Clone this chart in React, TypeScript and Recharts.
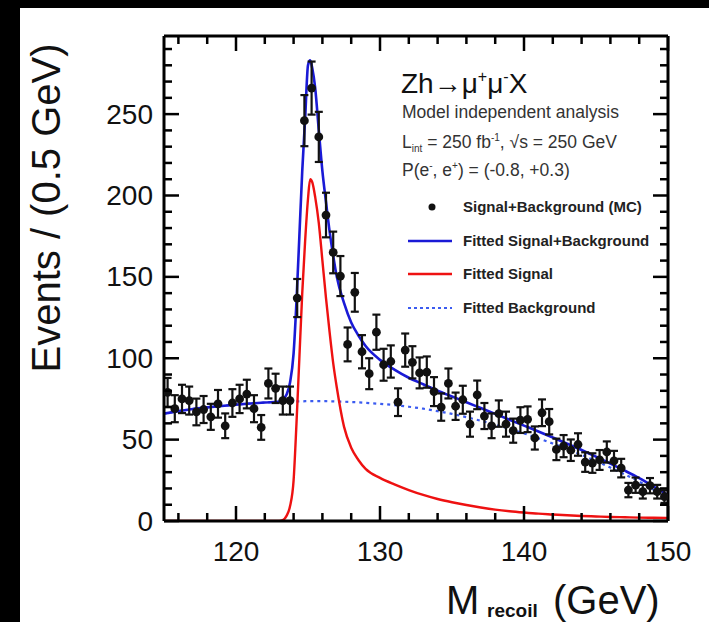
import React from "react";
import { ComposedChart, Line, Scatter, ErrorBar, XAxis, YAxis } from "recharts";

const FONT = "'Liberation Sans', Arial, Helvetica, sans-serif";

// Bin centres (GeV), 0.5 GeV bins
const binX = [
  115.25, 115.75, 116.25, 116.75, 117.25, 117.75, 118.25, 118.75, 119.25, 119.75,
  120.25, 120.75, 121.25, 121.75, 122.25, 122.75, 123.25, 123.75, 124.25, 124.75,
  125.25, 125.75, 126.25, 126.75, 127.25, 127.75, 128.25, 128.75, 129.25, 129.75,
  130.25, 130.75, 131.25, 131.75, 132.25, 132.75, 133.25, 133.75, 134.25, 134.75,
  135.25, 135.75, 136.25, 136.75, 137.25, 137.75, 138.25, 138.75, 139.25, 139.75,
  140.25, 140.75, 141.25, 141.75, 142.25, 142.75, 143.25, 143.75, 144.25, 144.75,
  145.25, 145.75, 146.25, 146.75, 147.25, 147.75, 148.25, 148.75, 149.25, 149.75,
];

// Signal+Background (MC) counts per bin
const counts = [
  79, 69, 75, 74, 67, 68.5, 64, 72, 58.5, 72.5,
  75, 78, 69, 57.5, 84.5, 81.5, 74, 74, 137, 246,
  266, 236, 188, 165, 150.5, 108.5, 140.5, 104, 90.5, 116,
  96, 98, 73, 105, 97.5, 91, 91.5, 79.5, 70, 84.5,
  70.5, 74.5, 59.5, 77.5, 64.5, 58.5, 66, 59.5, 55.5, 62,
  62.5, 51, 66.5, 61, 44, 46, 43.5, 47, 36.2, 35.6,
  37.5, 42.4, 37, 32.5, 19, 22, 18, 21.7, 18, 15,
];

// Error bar half-lengths
const errs = [
  8.9, 8.3, 8.7, 8.6, 8.2, 8.3, 8, 8.5, 7.6, 8.5,
  8.7, 8.8, 8.3, 7.6, 9.2, 9, 8.6, 8.6, 11.7, 15.7,
  16.3, 15.4, 13.7, 12.8, 12.3, 10.4, 11.9, 10.2, 9.5, 10.8,
  9.8, 9.9, 8.5, 10.2, 9.9, 9.5, 9.6, 8.9, 8.4, 9.2,
  8.4, 8.6, 7.7, 8.8, 8, 7.6, 8.1, 7.7, 7.4, 7.9,
  7.9, 7.1, 8.2, 7.8, 6.6, 6.8, 6.6, 6.9, 6, 6,
  6.1, 6.5, 6.1, 5.7, 4.4, 4.7, 4.2, 4.7, 4.2, 3.9,
];

// Sample positions of the fitted curves
const curveX = [
  115, 116, 117, 118, 119, 120, 121, 122, 123, 123.25,
  123.5, 123.75, 124, 124.2, 124.4, 124.6, 124.8, 125, 125.15, 125.3,
  125.5, 125.75, 126, 126.25, 126.5, 126.75, 127, 127.5, 128, 128.5,
  129, 130, 131, 132, 133, 134, 135, 136, 137, 138,
  139, 140, 141, 142, 143, 144, 145, 146, 147, 148,
  149, 150,
];

const fitTotal = [
  66, 67.5, 68.8, 69.8, 70.7, 71.5, 72.2, 72.8, 73.3, 74.5,
  77.5, 85, 103, 135, 175, 215, 247, 280, 283, 278,
  266, 240, 215, 196, 178, 163, 150, 134, 122, 114,
  107.5, 99, 93, 88, 84, 80, 76.5, 73, 69.4, 65.8,
  62.2, 58.6, 55, 51.3, 47.5, 43.6, 39.5, 35.3, 30.9, 26.3,
  21.2, 15.9,
];

const fitSignal = [
  0, 0, 0, 0, 0, 0, 0, 0, 0, 0.5,
  3, 9, 25, 60, 100, 140, 172, 198, 210, 208,
  199, 183, 160, 137, 116, 97, 82, 58, 45, 37.5,
  32, 26.5, 22.5, 19, 16, 13.5, 11.5, 9.8, 8.3, 7,
  6, 5.2, 4.5, 4, 3.5, 3.1, 2.8, 2.5, 2.3, 2.1,
  2, 1.9,
];

const fitBackground = [
  66, 67.5, 68.8, 69.8, 70.7, 71.5, 72.2, 72.8, 73.2, 73.3,
  73.4, 73.4, 73.5, 73.5, 73.5, 73.5, 73.6, 73.6, 73.6, 73.6,
  73.6, 73.6, 73.6, 73.6, 73.5, 73.5, 73.4, 73.3, 73.1, 72.9,
  72.6, 72, 71.2, 70.2, 69, 67.5, 65.8, 63.8, 61.6, 59.2,
  56.6, 53.8, 50.8, 47.6, 44.2, 40.6, 36.8, 32.8, 28.6, 24.2,
  19.2, 14,
];

const yTicks = [0, 10, 20, 30, 40, 50, 60, 70, 80, 90, 100, 110, 120, 130, 140, 150, 160, 170, 180, 190, 200, 210, 220, 230, 240, 250, 260, 270, 280, 290];
const yMajor = [0, 50, 100, 150, 200, 250];
const xTicks = [116, 118, 120, 122, 124, 126, 128, 130, 132, 134, 136, 138, 140, 142, 144, 146, 148, 150];
const xMajor = [120, 130, 140, 150];

const points = binX.map((x, i) => ({ x, y: counts[i], err: errs[i] }));
const totalData = curveX.map((x, i) => ({ x, y: fitTotal[i] }));
const signalData = curveX.map((x, i) => ({ x, y: fitSignal[i] }));
const bgData = curveX.map((x, i) => ({ x, y: fitBackground[i] }));

const MAJ = 15;
const MIN = 8;
const TW = 2.5;

const LeftTick = (p: any) => {
  const major = yMajor.includes(p.payload.value);
  return (
    <g>
      <line x1={p.x} y1={p.y} x2={p.x + (major ? MAJ : MIN)} y2={p.y} stroke="#000" strokeWidth={TW} />
      {major && (
        <text x={p.x - 11} y={p.y} textAnchor="end" dominantBaseline="central" fontSize={28} fontFamily={FONT} fill="#111">
          {p.payload.value}
        </text>
      )}
    </g>
  );
};
const RightTick = (p: any) => {
  const major = yMajor.includes(p.payload.value);
  return <line x1={p.x} y1={p.y} x2={p.x - (major ? MAJ : MIN)} y2={p.y} stroke="#000" strokeWidth={TW} />;
};
const BottomTick = (p: any) => {
  const major = xMajor.includes(p.payload.value);
  return (
    <g>
      <line x1={p.x} y1={p.y} x2={p.x} y2={p.y - (major ? MAJ : MIN)} stroke="#000" strokeWidth={TW} />
      {major && (
        <text x={p.x} y={p.y + 40} textAnchor="middle" fontSize={28} fontFamily={FONT} fill="#111">
          {p.payload.value}
        </text>
      )}
    </g>
  );
};
const TopTick = (p: any) => {
  const major = xMajor.includes(p.payload.value);
  return <line x1={p.x} y1={p.y} x2={p.x} y2={p.y + (major ? MAJ : MIN)} stroke="#000" strokeWidth={TW} />;
};

const Dot = (p: any) => <circle cx={p.cx} cy={p.cy} r={4.4} fill="#111" />;

const axisLineStyle = { stroke: "#000", strokeWidth: 3 };

export default function App() {
  return (
    <div style={{ position: "absolute", left: 0, top: 0, width: 709, height: 622, background: "#fff", overflow: "hidden" }}>
      <div style={{ position: "absolute", left: 0, top: 0, width: 709, height: 8, background: "#000" }} />
      <div style={{ position: "absolute", left: 0, top: 0, width: 20, height: 622, background: "#000" }} />
      <div style={{ position: "absolute", left: 0, top: 0 }}>
        <ComposedChart width={709} height={622} margin={{ top: 26, right: 31, bottom: 61, left: 104 }}>
          <XAxis
            xAxisId={0}
            dataKey="x"
            type="number"
            domain={[115, 150]}
            allowDataOverflow
            ticks={xTicks}
            interval={0}
            height={40}
            tickSize={0}
            tickMargin={0}
            tickLine={false}
            stroke="#000"
            tick={<BottomTick />}
            axisLine={axisLineStyle}
          />
          <XAxis
            xAxisId="top"
            orientation="top"
            dataKey="x"
            type="number"
            domain={[115, 150]}
            allowDataOverflow
            ticks={xTicks}
            interval={0}
            height={10}
            tickSize={0}
            tickMargin={0}
            tickLine={false}
            stroke="#000"
            tick={<TopTick />}
            axisLine={axisLineStyle}
          />
          <YAxis
            yAxisId={0}
            type="number"
            domain={[0, 298]}
            allowDataOverflow
            ticks={yTicks}
            interval={0}
            width={60}
            tickSize={0}
            tickMargin={0}
            tickLine={false}
            stroke="#000"
            tick={<LeftTick />}
            axisLine={axisLineStyle}
          />
          <YAxis
            yAxisId="right"
            orientation="right"
            type="number"
            domain={[0, 298]}
            allowDataOverflow
            ticks={yTicks}
            interval={0}
            width={10}
            tickSize={0}
            tickMargin={0}
            tickLine={false}
            stroke="#000"
            tick={<RightTick />}
            axisLine={axisLineStyle}
          />
          <Line data={bgData} dataKey="y" type="monotone" stroke="#3b5bf0" strokeWidth={2.2} strokeDasharray="3 4" dot={false} isAnimationActive={false} />
          <Line data={signalData} dataKey="y" type="monotone" stroke="#ee1111" strokeWidth={2.4} dot={false} isAnimationActive={false} />
          <Line data={totalData} dataKey="y" type="monotone" stroke="#1a1ad6" strokeWidth={2.6} dot={false} isAnimationActive={false} />
          <Scatter data={points} dataKey="y" shape={<Dot />} isAnimationActive={false}>
            <ErrorBar dataKey="err" direction="y" width={4} stroke="#111" strokeWidth={2.2} />
          </Scatter>
        </ComposedChart>
      </div>
      <svg width={709} height={622} style={{ position: "absolute", left: 0, top: 0, pointerEvents: "none" }} fontFamily={FONT}>
        <text transform="translate(60, 208) rotate(-90)" textAnchor="middle" fontSize={40} fill="#111">
          Events / (0.5 GeV)
        </text>
        <text x={446} y={614} fontSize={40} fill="#111">M</text>
        <text x={487} y={617} fontSize={19} fontWeight="bold" fill="#111">recoil</text>
        <text x={553} y={614} fontSize={40} fill="#111">(GeV)</text>

        <text x={401} y={93} fontSize={28} fill="#111">
          Zh→μ<tspan fontSize={16} dy={-11}>+</tspan>
          <tspan dy={11}>μ</tspan>
          <tspan fontSize={16} dy={-11}>-</tspan>
          <tspan dy={11}>X</tspan>
        </text>
        <text x={402} y={118} fontSize={17.5} fill="#333">Model independent analysis</text>
        <text x={402} y={148} fontSize={17.5} fill="#333">
          L<tspan fontSize={10} dy={4} fill="#333">int</tspan>
          <tspan dy={-4}> = 250 fb</tspan>
          <tspan fontSize={10} dy={-7}>-1</tspan>
          <tspan dy={7}>, √s = 250 GeV</tspan>
        </text>
        <text x={402} y={176} fontSize={17.5} fill="#333">
          P(e<tspan fontSize={10} dy={-7}>-</tspan>
          <tspan dy={7}>, e</tspan>
          <tspan fontSize={10} dy={-7}>+</tspan>
          <tspan dy={7}>) = (-0.8, +0.3)</tspan>
        </text>

        <circle cx={432} cy={207} r={3.5} fill="#111" />
        <text x={463} y={212} fontSize={15} fontWeight="bold" fill="#222">Signal+Background (MC)</text>
        <line x1={408} y1={241} x2={452} y2={241} stroke="#1a1ad6" strokeWidth={2.4} />
        <text x={463} y={246} fontSize={15} fontWeight="bold" fill="#222">Fitted Signal+Background</text>
        <line x1={408} y1={274} x2={452} y2={274} stroke="#ee1111" strokeWidth={2.4} />
        <text x={463} y={279} fontSize={15} fontWeight="bold" fill="#222">Fitted Signal</text>
        <line x1={408} y1={308} x2={452} y2={308} stroke="#3b5bf0" strokeWidth={2} strokeDasharray="3 3" />
        <text x={463} y={313} fontSize={15} fontWeight="bold" fill="#222">Fitted Background</text>
      </svg>
    </div>
  );
}
